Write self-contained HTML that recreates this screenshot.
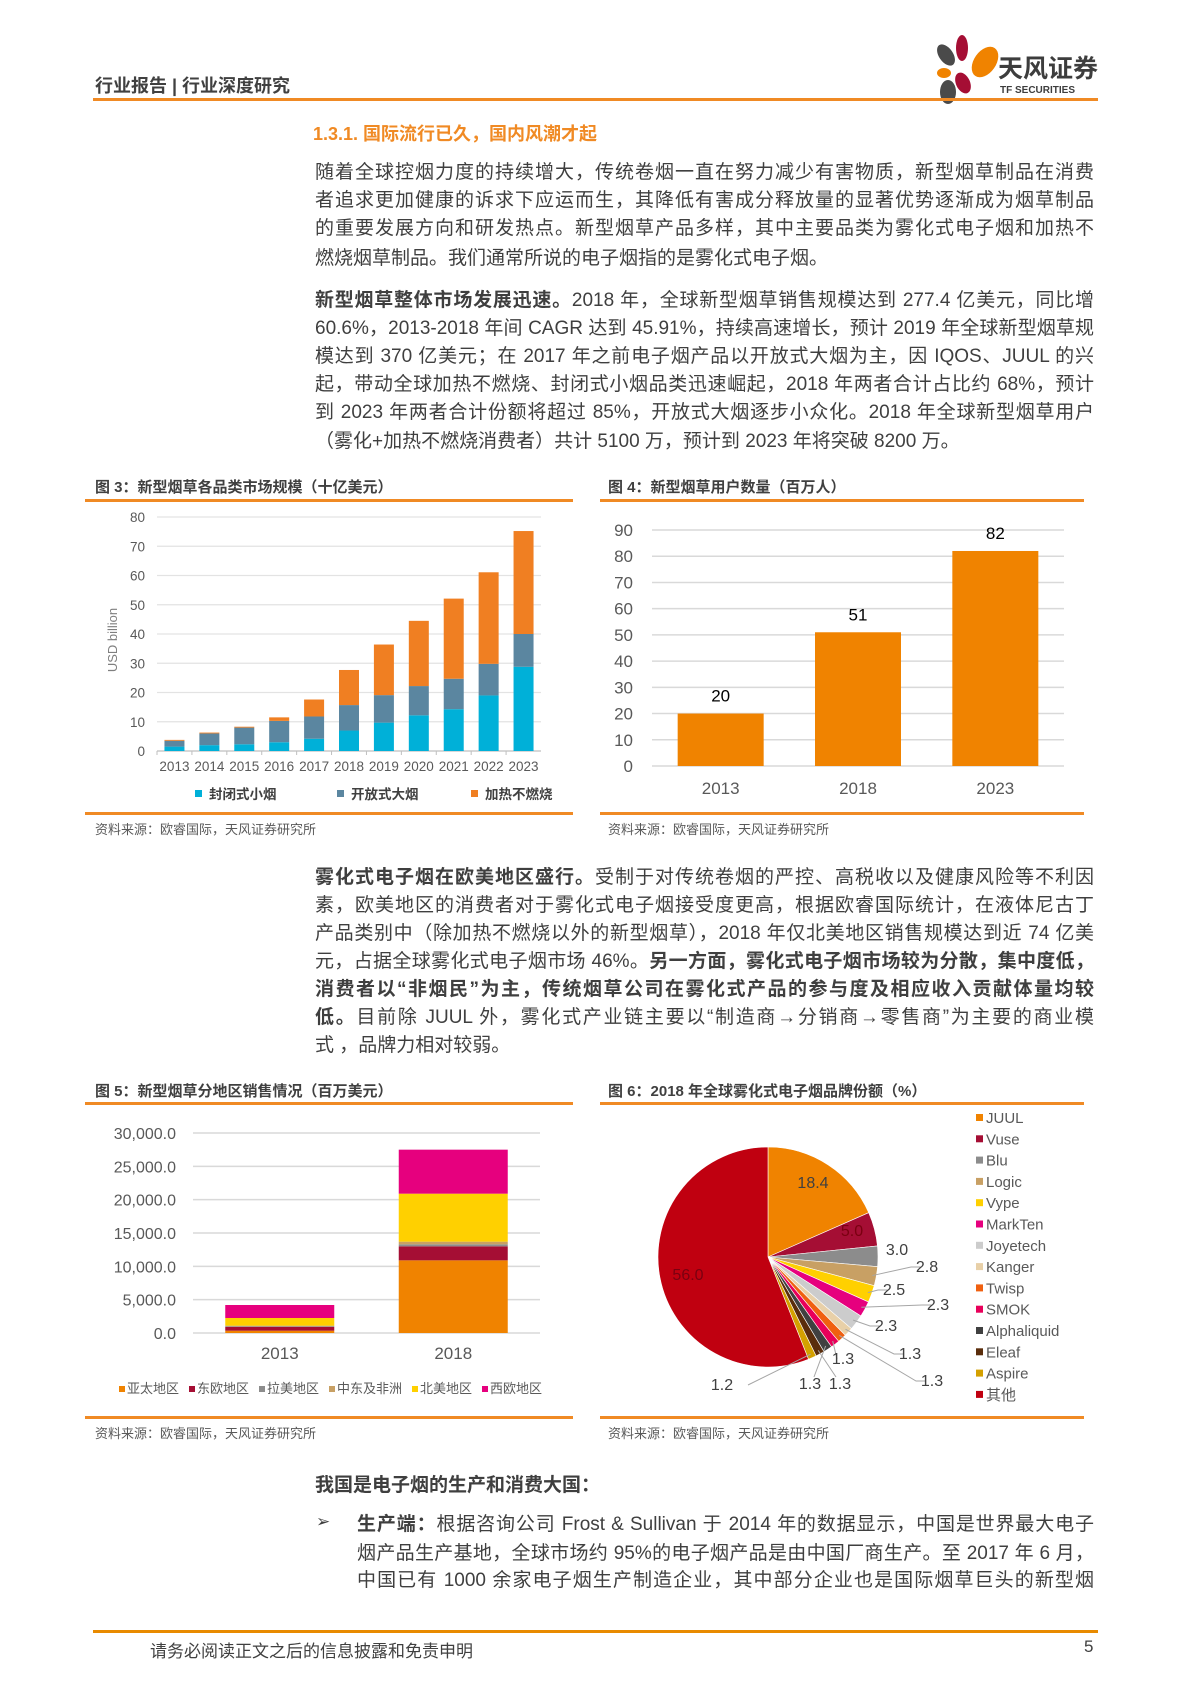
<!DOCTYPE html>
<html><head><meta charset="utf-8">
<style>
body{margin:0;background:#fff;}
#page{position:relative;width:1189px;height:1683px;overflow:hidden;font-family:"Liberation Sans","Noto Sans CJK SC",sans-serif;color:#404040;}
.abs{position:absolute;}
.line{position:absolute;left:315px;width:779px;font-size:19px;line-height:24px;text-align:justify;text-align-last:justify;white-space:nowrap;color:#3f3f3f;}
.hr{position:absolute;height:3px;background:#f08a24;}
.ftitle{position:absolute;font-size:15px;font-weight:bold;color:#404040;}
.src{position:absolute;font-size:13px;color:#595959;}
svg text{font-family:"Liberation Sans","Noto Sans CJK SC",sans-serif;}
</style></head>
<body><div id="page">

<div class="abs" style="left:95px;top:72px;font-size:18px;font-weight:bold;color:#404040;">行业报告 | 行业深度研究</div>
<svg class="abs" style="left:930px;top:30px" width="180" height="75">
<ellipse cx="32" cy="18" rx="6" ry="13" fill="#a50e34"/>
<ellipse cx="55" cy="32" rx="11" ry="17" transform="rotate(35 55 32)" fill="#f08300"/>
<ellipse cx="16" cy="25" rx="7" ry="12" transform="rotate(-35 16 25)" fill="#4a4a4a"/>
<ellipse cx="14" cy="43" rx="7" ry="5" fill="#f08300"/>
<ellipse cx="33" cy="53" rx="7" ry="11" transform="rotate(-25 33 53)" fill="#a50e34"/>
<ellipse cx="18" cy="62" rx="8" ry="12" fill="#4a4a4a"/>
<text x="68" y="47" font-size="25" font-weight="bold" fill="#3d3d3d">天风证券</text>
<text x="70" y="63" font-size="10" font-weight="bold" fill="#3d3d3d">TF SECURITIES</text>
</svg>
<div class="hr" style="left:93px;top:98px;width:1005px;"></div>

<div class="abs" style="left:313px;top:120px;font-size:18px;font-weight:bold;color:#f08a24;">1.3.1. 国际流行已久，国内风潮才起</div>

<div>
<div class="line" style="top:161px">随着全球控烟力度的持续增大，传统卷烟一直在努力减少有害物质，新型烟草制品在消费</div>
<div class="line" style="top:189px">者追求更加健康的诉求下应运而生，其降低有害成分释放量的显著优势逐渐成为烟草制品</div>
<div class="line" style="top:217px">的重要发展方向和研发热点。新型烟草产品多样，其中主要品类为雾化式电子烟和加热不</div>
<div class="line" style="top:247px;text-align-last:left">燃烧烟草制品。我们通常所说的电子烟指的是雾化式电子烟。</div>
</div>
<div>
<div class="line" style="top:289px"><b>新型烟草整体市场发展迅速。</b>2018 年，全球新型烟草销售规模达到 277.4 亿美元，同比增</div>
<div class="line" style="top:317px">60.6%，2013-2018 年间 CAGR 达到 45.91%，持续高速增长，预计 2019 年全球新型烟草规</div>
<div class="line" style="top:345px">模达到 370 亿美元；在 2017 年之前电子烟产品以开放式大烟为主，因 IQOS、JUUL 的兴</div>
<div class="line" style="top:373px">起，带动全球加热不燃烧、封闭式小烟品类迅速崛起，2018 年两者合计占比约 68%，预计</div>
<div class="line" style="top:401px">到 2023 年两者合计份额将超过 85%，开放式大烟逐步小众化。2018 年全球新型烟草用户</div>
<div class="line" style="top:430px;text-align-last:left">（雾化+加热不燃烧消费者）共计 5100 万，预计到 2023 年将突破 8200 万。</div>
</div>

<!-- Fig 3 -->
<div class="ftitle" style="left:95px;top:476px">图 3：新型烟草各品类市场规模（十亿美元）</div>
<div class="hr" style="left:85px;top:499px;width:488px;"></div>
<svg id="fig3" class="abs" style="left:85px;top:505px" width="490" height="305"></svg>
<div class="hr" style="left:85px;top:812px;width:488px;"></div>
<div class="src" style="left:95px;top:819px">资料来源：欧睿国际，天风证券研究所</div>

<!-- Fig 4 -->
<div class="ftitle" style="left:608px;top:476px">图 4：新型烟草用户数量（百万人）</div>
<div class="hr" style="left:600px;top:499px;width:484px;"></div>
<svg id="fig4" class="abs" style="left:600px;top:505px" width="484" height="305"></svg>
<div class="hr" style="left:600px;top:812px;width:484px;"></div>
<div class="src" style="left:608px;top:819px">资料来源：欧睿国际，天风证券研究所</div>

<div>
<div class="line" style="top:866px"><b>雾化式电子烟在欧美地区盛行。</b>受制于对传统卷烟的严控、高税收以及健康风险等不利因</div>
<div class="line" style="top:894px">素，欧美地区的消费者对于雾化式电子烟接受度更高，根据欧睿国际统计，在液体尼古丁</div>
<div class="line" style="top:922px">产品类别中（除加热不燃烧以外的新型烟草），2018 年仅北美地区销售规模达到近 74 亿美</div>
<div class="line" style="top:950px">元，占据全球雾化式电子烟市场 46%。<b>另一方面，雾化式电子烟市场较为分散，集中度低，</b></div>
<div class="line" style="top:978px"><b>消费者以“非烟民”为主，传统烟草公司在雾化式产品的参与度及相应收入贡献体量均较</b></div>
<div class="line" style="top:1006px"><b>低。</b>目前除 JUUL 外，雾化式产业链主要以“制造商→分销商→零售商”为主要的商业模</div>
<div class="line" style="top:1034px;text-align-last:left">式 ，品牌力相对较弱。</div>
</div>

<!-- Fig 5 -->
<div class="ftitle" style="left:95px;top:1080px">图 5：新型烟草分地区销售情况（百万美元）</div>
<div class="hr" style="left:85px;top:1102px;width:488px;"></div>
<svg id="fig5" class="abs" style="left:85px;top:1106px" width="490" height="308"></svg>
<div class="hr" style="left:85px;top:1416px;width:488px;"></div>
<div class="src" style="left:95px;top:1423px">资料来源：欧睿国际，天风证券研究所</div>

<!-- Fig 6 -->
<div class="ftitle" style="left:608px;top:1080px">图 6：2018 年全球雾化式电子烟品牌份额（%）</div>
<div class="hr" style="left:600px;top:1102px;width:484px;"></div>
<svg id="fig6" class="abs" style="left:600px;top:1106px" width="484" height="308"></svg>
<div class="hr" style="left:600px;top:1416px;width:484px;"></div>
<div class="src" style="left:608px;top:1423px">资料来源：欧睿国际，天风证券研究所</div>

<div class="abs" style="left:315px;top:1470px;font-size:19px;font-weight:bold;color:#3f3f3f;">我国是电子烟的生产和消费大国：</div>
<div class="abs" style="left:316px;top:1512px;font-size:17px;color:#3f3f3f;">➢</div>
<div>
<div class="line" style="left:357px;width:737px;top:1513px"><b>生产端：</b>根据咨询公司 Frost &amp; Sullivan 于 2014 年的数据显示，中国是世界最大电子</div>
<div class="line" style="left:357px;width:737px;top:1542px">烟产品生产基地，全球市场约 95%的电子烟产品是由中国厂商生产。至 2017 年 6 月，</div>
<div class="line" style="left:357px;width:737px;top:1569px">中国已有 1000 余家电子烟生产制造企业，其中部分企业也是国际烟草巨头的新型烟</div>
</div>

<div class="hr" style="left:93px;top:1630px;width:1005px;background:#e88a00;"></div>
<div class="abs" style="left:150px;top:1637px;font-size:17px;color:#404040;">请务必阅读正文之后的信息披露和免责申明</div>
<div class="abs" style="left:1084px;top:1637px;font-size:17px;color:#404040;">5</div>

<script>
const NS='http://www.w3.org/2000/svg';
function mk(svg,tag,attrs,txt){const e=document.createElementNS(NS,tag);for(const k in attrs)e.setAttribute(k,attrs[k]);if(txt!==undefined)e.textContent=txt;svg.appendChild(e);return e;}

// ---------- Fig 3 data ----------
const f3Years=['2013','2014','2015','2016','2017','2018','2019','2020','2021','2022','2023'];
const f3Closed=[1.5,2,2.3,3,4.2,7,9.7,12.2,14.3,19,28.8];
const f3Open=[2,4,5.7,7.3,7.6,8.7,9.4,10,10.4,10.8,11.2];
const f3Heated=[0.3,0.3,0.3,1.2,5.8,12,17.3,22.3,27.4,31.3,35.2];
const f3Ticks=[0,10,20,30,40,50,60,70,80];
const f3Series=['封闭式小烟','开放式大烟','加热不燃烧'];
(function(){
 const svg=document.getElementById('fig3');
 const x0=72,x1=456,yTop=12,yBot=246,max=80;
 const y=v=>yBot-(v/max)*(yBot-yTop);
 const slot=(x1-x0)/f3Years.length;
 const cols=['#00b0d8','#5b86a0','#f07f22'];
 f3Ticks.forEach(t=>{
  const g=mk(svg,'line',{x1:x0,x2:x1,y1:y(t),y2:y(t),stroke:t===0?'#bfbfbf':'#e3e3e3','stroke-width':1.2});
  
  
  const l=mk(svg,'text',{x:x0-12,y:y(t)+5,'font-size':13.5,'text-anchor':'end',fill:'#595959'},t);
  
  
 });
 const yt=mk(svg,'text',{x:0,y:0,'font-size':13,'text-anchor':'middle',fill:'#7f7f7f',transform:`translate(32,135) rotate(-90)`},'USD billion');
 
 
 f3Years.forEach((yr,i)=>{
  const cx=x0+slot*(i+0.5),w=20;
  const vals=[f3Closed[i],f3Open[i],f3Heated[i]];let acc=0;
  vals.forEach((v,k)=>{
   const r=mk(svg,'rect',{x:cx-w/2,y:y(acc+v),width:w,height:y(acc)-y(acc+v),fill:cols[k]});
   
   
   acc+=v;
  });
  const tk=mk(svg,'line',{x1:x0+slot*i,x2:x0+slot*i,y1:yBot,y2:yBot+4,stroke:'#bfbfbf'});
  
  
  const t=mk(svg,'text',{x:cx,y:yBot+20,'font-size':13.5,'text-anchor':'middle',fill:'#595959'},yr);
  
  
 });
 const lx=[110,252,386];
 f3Series.forEach((s,k)=>{
  const r=mk(svg,'rect',{x:lx[k],y:285,width:7,height:7,fill:cols[k]});
  
  
  const t=mk(svg,'text',{x:lx[k]+14,y:294,'font-size':13.5,'font-weight':'bold',fill:'#404040'},s);
  
  
 });
})();

// ---------- Fig 4 data ----------
const f4Years=['2013','2018','2023'];
const f4Users=[20,51,82];
const f4Ticks=[0,10,20,30,40,50,60,70,80,90];
(function(){
 const svg=document.getElementById('fig4');
 const x0=52,x1=464,yTop=25,yBot=261,max=90;
 const y=v=>yBot-(v/max)*(yBot-yTop);
 const slot=(x1-x0)/f4Years.length;
 f4Ticks.forEach(t=>{
  const g=mk(svg,'line',{x1:x0,x2:x1,y1:y(t),y2:y(t),stroke:'#d9d9d9','stroke-width':1.5});
  
  
  const l=mk(svg,'text',{x:x0-19,y:y(t)+6,'font-size':17,'text-anchor':'end',fill:'#595959'},t);
  
  
 });
 f4Years.forEach((yr,i)=>{
  const cx=x0+slot*(i+0.5),w=86;
  const r=mk(svg,'rect',{x:cx-w/2,y:y(f4Users[i]),width:w,height:yBot-y(f4Users[i]),fill:'#f08300'});
  
  
  const v=mk(svg,'text',{x:cx,y:y(f4Users[i])-12,'font-size':17,'text-anchor':'middle',fill:'#000'},f4Users[i]);
  
  
  const t=mk(svg,'text',{x:cx,y:yBot+28,'font-size':17,'text-anchor':'middle',fill:'#595959'},yr);
  
  
 });
})();

// ---------- Fig 5 data ----------
const f5Years=['2013','2018'];
const f5Regions=['亚太地区','东欧地区','拉美地区','中东及非洲','北美地区','西欧地区'];
const f5APAC=[350,10900];
const f5EEur=[550,2100];
const f5LatAm=[100,300];
const f5MEA=[100,400];
const f5NA=[1150,7200];
const f5WEur=[1950,6600];
const f5Ticks=[0,5000,10000,15000,20000,25000,30000];
const f5TickLabels=['0.0','5,000.0','10,000.0','15,000.0','20,000.0','25,000.0','30,000.0'];
(function(){
 const svg=document.getElementById('fig5');
 const x0=108,x1=455,yTop=27,yBot=227,max=30000;
 const y=v=>yBot-(v/max)*(yBot-yTop);
 const cols=['#f08300','#a50e34','#8c8c8c','#c8a064','#ffd000','#e6007e'];
 const series=[f5APAC,f5EEur,f5LatAm,f5MEA,f5NA,f5WEur];
 f5Ticks.forEach((t,i)=>{
  const g=mk(svg,'line',{x1:x0,x2:x1,y1:y(t),y2:y(t),stroke:'#d9d9d9','stroke-width':1.5});
  
  
  const l=mk(svg,'text',{x:x0-17,y:y(t)+6,'font-size':16,'text-anchor':'end',fill:'#595959'},f5TickLabels[i]);
  
  
 });
 const slot=(x1-x0)/f5Years.length;
 f5Years.forEach((yr,i)=>{
  const cx=x0+slot*(i+0.5),w=109;let acc=0;
  series.forEach((s,k)=>{
   const r=mk(svg,'rect',{x:cx-w/2,y:y(acc+s[i]),width:w,height:y(acc)-y(acc+s[i]),fill:cols[k]});
   
   
   acc+=s[i];
  });
  const t=mk(svg,'text',{x:cx,y:yBot+26,'font-size':17,'text-anchor':'middle',fill:'#595959'},yr);
  
  
 });
 let lx=34;
 f5Regions.forEach((r,k)=>{
  const sq=mk(svg,'rect',{x:lx,y:280,width:6,height:6,fill:cols[k]});
  
  
  const t=mk(svg,'text',{x:lx+8,y:287,'font-size':13,fill:'#595959'},r);
  
  
  lx+=8+r.length*13+10;
 });
})();

// ---------- Fig 6 data ----------
const f6Brands=['JUUL','Vuse','Blu','Logic','Vype','MarkTen','Joyetech','Kanger','Twisp','SMOK','Alphaliquid','Eleaf','Aspire','其他'];
const f6Shares=[18.4,5.0,3.0,2.8,2.5,2.3,2.3,1.3,1.3,1.3,1.3,1.3,1.2,56.0];
(function(){
 const svg=document.getElementById('fig6');
 const cols=['#f08300','#a50e34','#8c8c8c','#c8a064','#ffd000','#e6007e','#cccccc','#e8d0a8','#f06010','#e8005a','#404040','#5a2d0c','#d4a000','#c00010'];
 const cx=168,cy=151,R=110;
 const total=f6Shares.reduce((a,b)=>a+b,0);
 const pt=(a,r)=>[cx+r*Math.sin(a),cy-r*Math.cos(a)];
 let a0=0;const mids=[];
 f6Shares.forEach((v,i)=>{
  const a1=a0+v/total*2*Math.PI;
  const p0=pt(a0,R),p1=pt(a1,R);
  const large=(a1-a0)>Math.PI?1:0;
  const p=mk(svg,'path',{d:`M${cx},${cy} L${p0[0]},${p0[1]} A${R},${R} 0 ${large} 1 ${p1[0]},${p1[1]} Z`,fill:cols[i],stroke:'#fff','stroke-width':0.6});
  
  
  mids.push((a0+a1)/2);a0=a1;
 });
 const lab=[[213,82,'in'],[252,130,'in'],[297,149],[327,166],[294,189],[338,204],[286,225],[310,253],[332,280],[243,258],[210,283],[240,283],[122,284],[88,174,'in']];
 f6Shares.forEach((v,i)=>{
  const L=lab[i];const txt=v.toFixed(1);
  if(L[2]!=='in'&&i>2){
   const s=pt(mids[i],R-4);
   const ex=i>=10?L[0]+(i===12?26:(i===10?4:-4)):L[0]-6;
   const ey=i>=10?L[1]-(i===12?5:12):L[1]-5;
   const ln=mk(svg,'polyline',{points:`${s[0]},${s[1]} ${i>=9?ex:ex-10},${ey} ${ex},${ey}`,fill:'none',stroke:'#a6a6a6','stroke-width':1});
   
   
  }
  const t=mk(svg,'text',{x:L[0],y:L[1],'font-size':16,'text-anchor':'middle',fill:(i===1||i===13)?'#7a0010':'#404040'},txt);
  
  
 });
 f6Brands.forEach((b,i)=>{
  const yy=12+i*21.3;
  const sq=mk(svg,'rect',{x:376,y:yy-4,width:7,height:7,fill:cols[i]});
  
  
  const t=mk(svg,'text',{x:386,y:yy+5,'font-size':15,fill:'#595959'},b);
  
  
 });
})();
</script>
</div></body></html>
